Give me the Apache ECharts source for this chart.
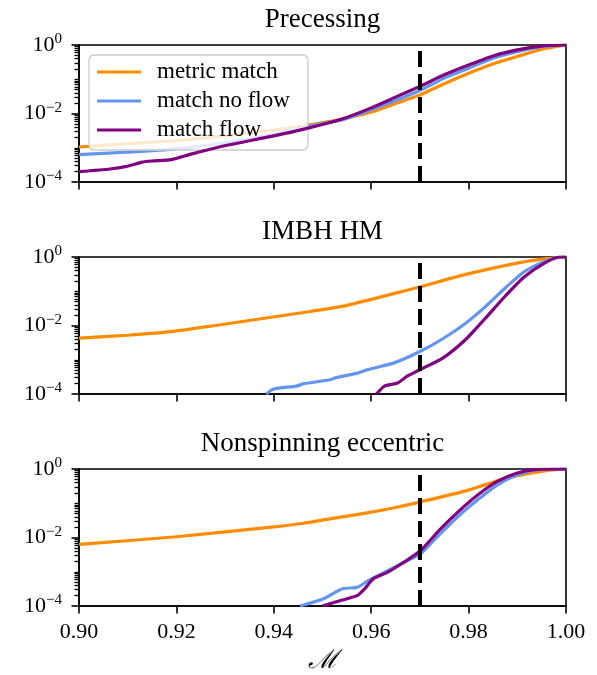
<!DOCTYPE html>
<html>
<head>
<meta charset="utf-8">
<script src="https://cdn.jsdelivr.net/npm/echarts@6/dist/echarts.min.js"></script>
<style>
html,body{margin:0;padding:0;background:#fff;}
#chart{width:597px;height:675px;}
</style>
</head>
<body>
<div id="chart"></div>
<script>
// ---------- data ----------
const panelTitles = ['Precessing', 'IMBH HM', 'Nonspinning eccentric'];
const seriesNames = ['metric match', 'match no flow', 'match flow'];
const seriesColors = ['#ff8c00', '#6495ed', '#800080'];
const thresholdX = 0.97;
const xMin = 0.90, xMax = 1.00, xStep = 0.02;
const yMajorTicks = [1e-4, 1e-2, 1];

// Precessing
const precMetricX = [0.900, 0.9095, 0.9197, 0.9306, 0.9384, 0.9462, 0.9540, 0.9600, 0.9650, 0.9700, 0.9750, 0.9800, 0.9850, 0.9900, 0.9950, 1.000];
const precMetricY = [1.05e-3, 1.3e-3, 1.6e-3, 2.3e-3, 3.1e-3, 4.4e-3, 6.9e-3, 0.011, 0.0195, 0.035, 0.074, 0.15, 0.28, 0.46, 0.75, 1.0];
const precNoFlowX = [0.900, 0.9095, 0.9200, 0.9306, 0.9384, 0.9462, 0.9540, 0.9600, 0.9650, 0.9700, 0.9750, 0.9800, 0.9850, 0.9900, 0.9950, 1.000];
const precNoFlowY = [6.3e-4, 7.4e-4, 9.3e-4, 1.45e-3, 2.3e-3, 4.0e-3, 6.5e-3, 0.013, 0.024, 0.047, 0.108, 0.21, 0.41, 0.64, 0.89, 1.0];
const precFlowX = [0.900, 0.9064, 0.9095, 0.9130, 0.9150, 0.9190, 0.9230, 0.9306, 0.9384, 0.9462, 0.9540, 0.9600, 0.9650, 0.9700, 0.9750, 0.9800, 0.9850, 0.9900, 0.9950, 1.000];
const precFlowY = [2.0e-4, 2.4e-4, 2.8e-4, 3.8e-4, 4.1e-4, 4.5e-4, 6.5e-4, 1.2e-3, 2.0e-3, 3.5e-3, 6.9e-3, 0.0146, 0.030, 0.062, 0.135, 0.26, 0.48, 0.72, 0.93, 1.0];

// IMBH HM
const imbhMetricX = [0.900, 0.910, 0.9189, 0.928, 0.9384, 0.9461, 0.9540, 0.9594, 0.9650, 0.9701, 0.9794, 0.9894, 0.9954, 1.000];
const imbhMetricY = [4.3e-3, 5.2e-3, 6.6e-3, 1.0e-2, 0.0166, 0.024, 0.036, 0.055, 0.088, 0.135, 0.31, 0.64, 0.88, 1.0];
const imbhNoFlowX = [0.9384, 0.9400, 0.9446, 0.9462, 0.9516, 0.9528, 0.9570, 0.9594, 0.9647, 0.9701, 0.9747, 0.9794, 0.9834, 0.9874, 0.9914, 0.9954, 0.9990, 1.000];
const imbhNoFlowY = [1.0e-4, 1.4e-4, 1.7e-4, 2.0e-4, 2.6e-4, 3.0e-4, 4.0e-4, 5.2e-4, 8.1e-4, 1.77e-3, 4.1e-3, 0.0117, 0.035, 0.12, 0.37, 0.72, 1.0, 1.0];
const imbhFlowX = [0.9611, 0.9627, 0.9654, 0.9674, 0.9701, 0.9747, 0.9794, 0.9834, 0.9874, 0.9914, 0.9954, 0.9987, 1.000];
const imbhFlowY = [1.0e-4, 1.7e-4, 2.1e-4, 3.3e-4, 5.2e-4, 1.12e-3, 3.9e-3, 0.016, 0.069, 0.26, 0.64, 1.0, 1.0];

// Nonspinning eccentric
const eccMetricX = [0.900, 0.920, 0.940, 0.9461, 0.9540, 0.9594, 0.9650, 0.9701, 0.9794, 0.9834, 0.9880, 0.9927, 0.9960, 1.000];
const eccMetricY = [6.3e-3, 0.0105, 0.0204, 0.026, 0.040, 0.053, 0.075, 0.11, 0.23, 0.35, 0.56, 0.76, 0.90, 1.0];
const eccNoFlowX = [0.9454, 0.9501, 0.9541, 0.9571, 0.9594, 0.9634, 0.9674, 0.9701, 0.9741, 0.9780, 0.9820, 0.9860, 0.9900, 0.9940, 1.000];
const eccNoFlowY = [1.0e-4, 1.6e-4, 3.2e-4, 3.5e-4, 5.5e-4, 1.07e-3, 2.1e-3, 3.3e-3, 0.0125, 0.043, 0.13, 0.35, 0.68, 0.95, 1.0];
const eccFlowX = [0.9500, 0.9541, 0.9571, 0.9587, 0.9604, 0.9634, 0.9674, 0.9701, 0.9741, 0.9780, 0.9820, 0.9860, 0.9900, 0.9940, 1.000];
const eccFlowY = [1.0e-4, 1.5e-4, 2.0e-4, 3.2e-4, 6.2e-4, 9.7e-4, 2.2e-3, 4.1e-3, 0.017, 0.059, 0.18, 0.44, 0.76, 0.97, 1.0];

// ---------- build ----------
const panels = [
  [[precMetricX, precMetricY], [precNoFlowX, precNoFlowY], [precFlowX, precFlowY]],
  [[imbhMetricX, imbhMetricY], [imbhNoFlowX, imbhNoFlowY], [imbhFlowX, imbhFlowY]],
  [[eccMetricX, eccMetricY], [eccNoFlowX, eccNoFlowY], [eccFlowX, eccFlowY]]
];

// minor log ticks (2..9 x 10^k, plus the unlabelled decades)
const yMinorTicks = [];
for (let e = -4; e <= -1; e++) {
  for (let k = 1; k <= 9; k++) {
    if (k === 1 && (e === -4 || e === -2)) continue;
    yMinorTicks.push(k * Math.pow(10, e));
  }
}

const FONT = 'Liberation Serif';
const gridLeft = 79, gridWidth = 487, gridHeight = 137;
const gridTops = [45, 257, 469];
const plotCenterX = gridLeft + gridWidth / 2;

function zip(xs, ys) { return xs.map((x, i) => [x, ys[i]]); }

function supLabel(v) {
  const e = Math.round(Math.log10(v));
  const s = e < 0 ? '\u2212' + (-e) : String(e);
  return '{b|10}{s|' + s + '}';
}

const grid = [], xAxis = [], yAxis = [], series = [], graphic = [];
gridTops.forEach((top, gi) => {
  grid.push({
    left: gridLeft, top: top, width: gridWidth, height: gridHeight,
    show: true, borderColor: '#000', borderWidth: 1.6, backgroundColor: 'transparent'
  });
  xAxis.push({
    type: 'value', gridIndex: gi, min: xMin, max: xMax, interval: xStep,
    axisLine: { show: true, onZero: false, lineStyle: { color: '#000', width: 1.6 } },
    axisTick: { show: true, inside: false, length: 7.5, lineStyle: { color: '#000', width: 1.6 } },
    axisLabel: {
      show: gi === 2, margin: 15, color: '#000', fontFamily: FONT, fontSize: 22,
      formatter: v => v.toFixed(2)
    },
    splitLine: { show: false },
    name: gi === 2 ? '\u2133' : '',
    nameLocation: 'middle', nameGap: 42,
    nameTextStyle: { fontFamily: 'DejaVu Serif', fontSize: 26, color: '#000', fontStyle: 'italic' }
  });
  // major log axis (labelled)
  yAxis.push({
    type: 'log', logBase: 10, gridIndex: gi, min: 1e-4, max: 1, position: 'left',
    axisLine: { show: true, onZero: false, lineStyle: { color: '#000', width: 1.6 } },
    axisTick: { show: true, inside: false, length: 7.5, customValues: yMajorTicks, lineStyle: { color: '#000', width: 1.6 } },
    axisLabel: {
      show: true, margin: 17, color: '#000', customValues: yMajorTicks,
      formatter: supLabel,
      rich: {
        b: { fontFamily: FONT, fontSize: 22, color: '#000' },
        s: { fontFamily: FONT, fontSize: 15, color: '#000', padding: [0, 0, 11, 0] }
      }
    },
    splitLine: { show: false }
  });
  // minor log ticks, placed on the left edge (shifted from the right slot)
  yAxis.push({
    type: 'log', logBase: 10, gridIndex: gi, min: 1e-4, max: 1, position: 'right', offset: -gridWidth,
    axisLine: { show: false },
    axisTick: { show: true, inside: true, length: 4.5, customValues: yMinorTicks, lineStyle: { color: '#000', width: 1.3 } },
    axisLabel: { show: false },
    splitLine: { show: false }
  });
  panels[gi].forEach((pair, si) => {
    const s = {
      type: 'line', name: seriesNames[si], xAxisIndex: gi, yAxisIndex: gi * 2,
      data: zip(pair[0], pair[1]),
      showSymbol: false, symbol: 'none', smooth: 0.2,
      lineStyle: { color: seriesColors[si], width: 3.2 },
      itemStyle: { color: seriesColors[si] },
      clip: true, animation: false, z: 2 + si
    };
    if (si === 2) {
      s.markLine = {
        silent: true, symbol: ['none', 'none'], animation: false,
        label: { show: false },
        lineStyle: { color: '#000', width: 4, type: [16, 7] },
        emphasis: { disabled: true },
        data: [{ xAxis: thresholdX }]
      };
    }
    series.push(s);
  });
  graphic.push({
    type: 'text', x: plotCenterX, y: top - 25, silent: true,
    style: { text: panelTitles[gi], fontFamily: FONT, fontSize: 27, fill: '#000', align: 'center', verticalAlign: 'middle' }
  });
});

const chart = echarts.init(document.getElementById('chart'), null, { renderer: 'canvas' });
chart.setOption({
  animation: false,
  backgroundColor: '#fff',
  textStyle: { fontFamily: FONT, color: '#000' },
  grid, xAxis, yAxis, series, graphic,
  legend: {
    show: true, orient: 'vertical', left: 89, top: 55,
    data: seriesNames,
    icon: 'rect', itemWidth: 44, itemHeight: 3, itemGap: 3,
    padding: [4, 18, 7, 8],
    backgroundColor: 'rgba(255,255,255,0.8)',
    borderColor: '#cccccc', borderWidth: 1.3, borderRadius: 5,
    textStyle: { fontFamily: FONT, fontSize: 23, lineHeight: 26, color: '#000', padding: [0, 0, 0, 11] },
    selectedMode: false
  }
});
</script>
</body>
</html>
